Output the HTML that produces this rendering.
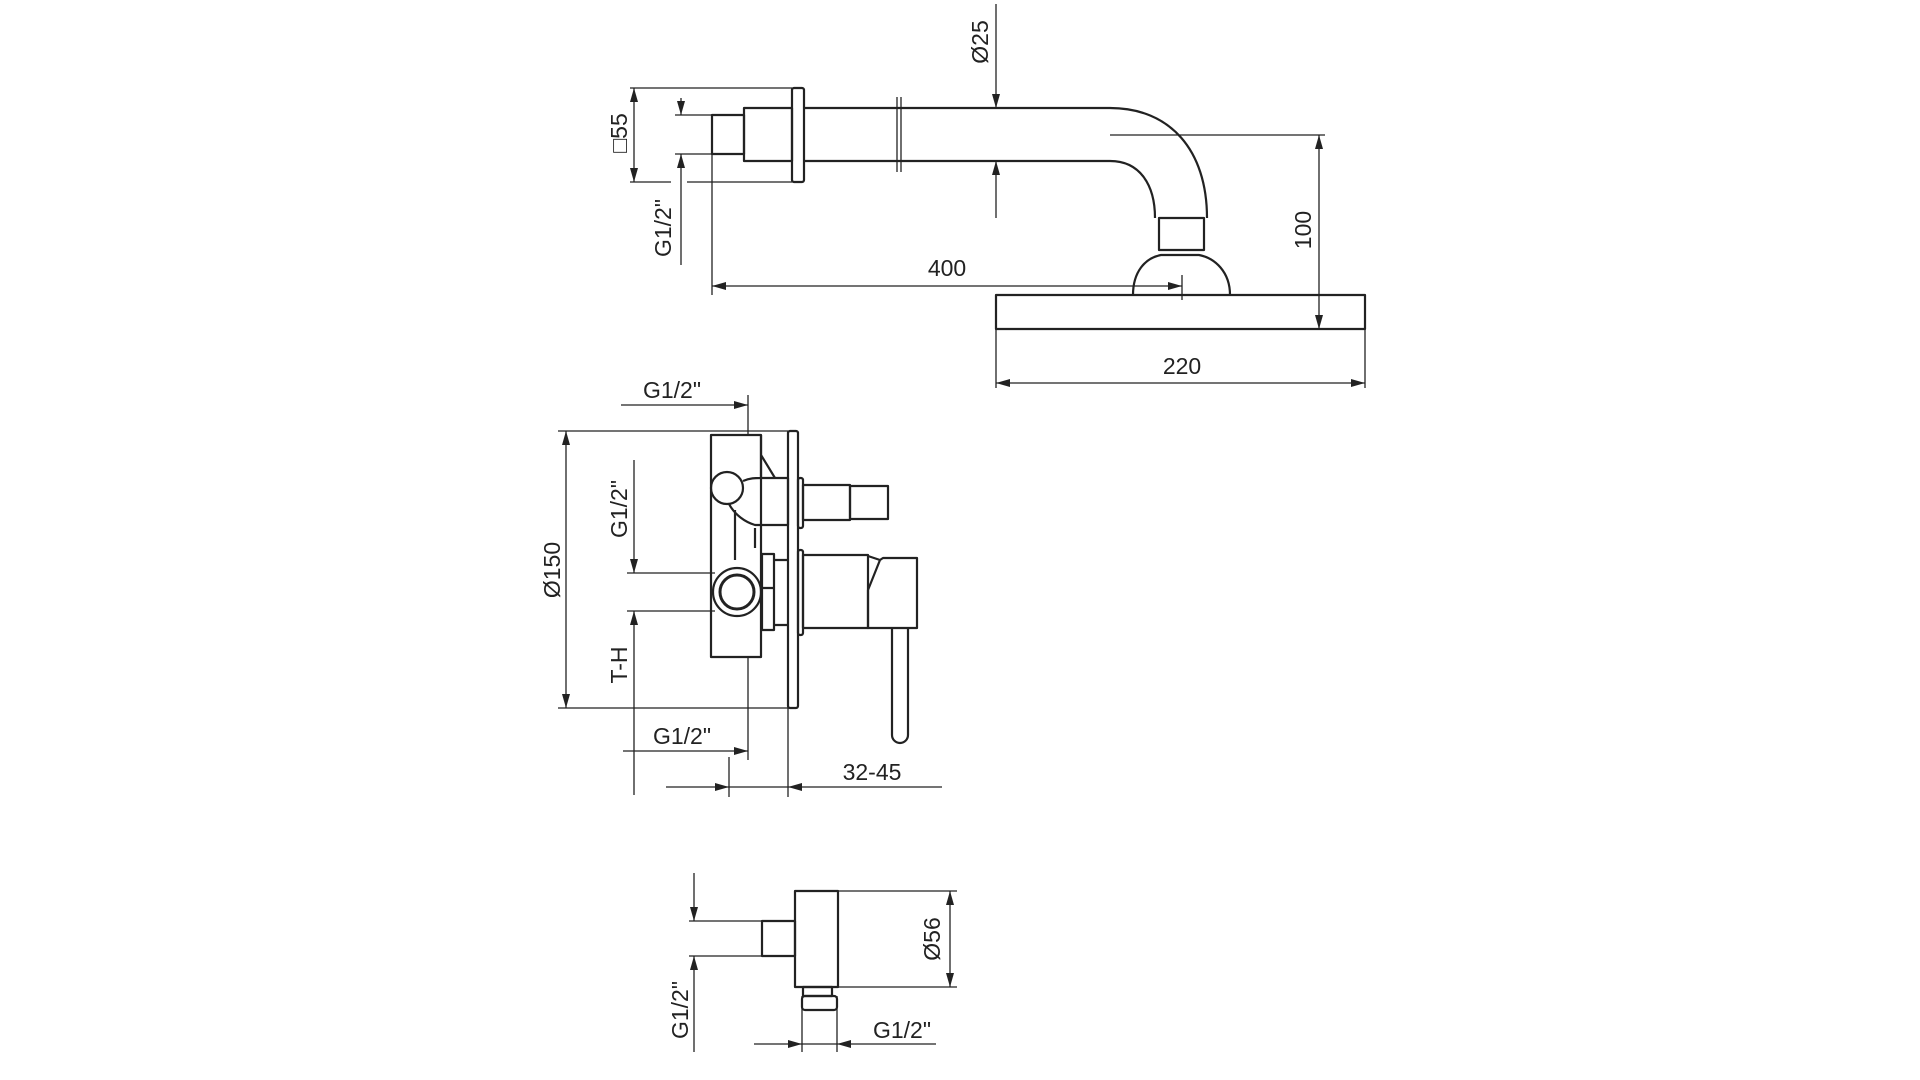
<!DOCTYPE html>
<html><head><meta charset="utf-8"><style>
html,body{margin:0;padding:0;background:#fff;}
svg{display:block}
text{font-family:"Liberation Sans",sans-serif;font-size:23px;fill:#222;}
</style></head><body>
<svg width="1920" height="1080" viewBox="0 0 1920 1080" xmlns="http://www.w3.org/2000/svg">
<defs>
<marker id="a" viewBox="0 0 14 8" refX="14" refY="4" markerWidth="14" markerHeight="8" markerUnits="userSpaceOnUse" orient="auto-start-reverse"><path d="M0,0 L14,4 L0,8 Z" fill="#222"/></marker>
</defs>
<g fill="none" stroke="#222" stroke-width="2.2" stroke-linejoin="round">
<!-- TOP -->
<rect x="792" y="88" width="12" height="94" rx="2"/>
<rect x="744" y="108" width="48" height="53"/>
<rect x="712" y="115" width="32" height="39"/>
<path d="M804,108 H1110 C1170,108 1207,150 1207,218"/>
<path d="M804,161 H1110 C1140,161 1155,185 1155,218"/>
<rect x="1159" y="218" width="45" height="32"/>
<path d="M1133,295 C1133,272 1145,258 1161,255 H1199 C1215,258 1230,272 1230,295"/>
<rect x="996" y="295" width="369" height="34"/>
<!-- MIDDLE -->
<rect x="711" y="435" width="50" height="222"/>
<rect x="788" y="431" width="10" height="277" rx="2"/>
<circle cx="727" cy="488" r="16"/>
<path d="M743,481 C750,478 755,478 761,478 H788 M761,435 V478 M761,455 L775,478 M729,504 C735,515 745,522 755,525 H788 V478 M735,510 V560 M755,528 V548"/>
<circle cx="737" cy="592" r="24"/>
<circle cx="737" cy="592" r="17" stroke-width="3"/>
<rect x="762" y="554" width="12" height="76"/>
<path d="M774,560 H788 M774,625 H788 M760,588 H774"/>
<rect x="798" y="478" width="5" height="50" rx="2"/>
<rect x="803" y="485" width="47" height="35"/>
<rect x="850" y="486" width="38" height="33"/>
<rect x="798" y="550" width="5" height="85" rx="2"/>
<rect x="803" y="555" width="65" height="73"/>
<path d="M868,556 L880,560 L883,558 H917 V628 H868 V590 L880,560"/>
<path d="M892,628 V735 A8,8 0 0 0 908,735 V628"/>
<!-- BOTTOM -->
<rect x="795" y="891" width="43" height="96"/>
<rect x="762" y="921" width="33" height="35"/>
<rect x="803" y="987" width="29" height="9"/>
<rect x="802" y="996" width="35" height="14" rx="3"/>
</g>
<g fill="none" stroke="#222" stroke-width="1.3">
<!-- top dims -->
<path d="M630,88 H792 M630,182 H671 M687,182 H792"/>
<line x1="634" y1="88" x2="634" y2="182" marker-start="url(#a)" marker-end="url(#a)"/>
<path d="M675,115 H712 M675,154 H712"/>
<line x1="681" y1="98" x2="681" y2="115" marker-end="url(#a)"/>
<line x1="681" y1="265" x2="681" y2="154" marker-end="url(#a)"/>
<line x1="712" y1="154" x2="712" y2="295"/>
<line x1="712" y1="286" x2="1182" y2="286" marker-start="url(#a)" marker-end="url(#a)"/>
<line x1="1182" y1="275" x2="1182" y2="300"/>
<path d="M897,97 V172 M901,97 V172"/>
<line x1="996" y1="4" x2="996" y2="108" marker-end="url(#a)"/>
<line x1="996" y1="218" x2="996" y2="161" marker-end="url(#a)"/>
<line x1="1110" y1="135" x2="1325" y2="135"/>
<line x1="1319" y1="135" x2="1319" y2="329" marker-start="url(#a)" marker-end="url(#a)"/>
<path d="M996,329 V388 M1365,329 V388"/>
<line x1="996" y1="383" x2="1365" y2="383" marker-start="url(#a)" marker-end="url(#a)"/>
<!-- middle dims -->
<line x1="621" y1="405" x2="748" y2="405" marker-end="url(#a)"/>
<line x1="748" y1="395" x2="748" y2="435"/>
<path d="M558,431 H788 M558,708 H788"/>
<line x1="566" y1="431" x2="566" y2="708" marker-start="url(#a)" marker-end="url(#a)"/>
<line x1="634" y1="460" x2="634" y2="573" marker-end="url(#a)"/>
<line x1="634" y1="795" x2="634" y2="611" marker-end="url(#a)"/>
<path d="M627,573 H715 M627,611 H715"/>
<line x1="623" y1="751" x2="748" y2="751" marker-end="url(#a)"/>
<line x1="748" y1="657" x2="748" y2="760"/>
<line x1="666" y1="787" x2="729" y2="787" marker-end="url(#a)"/>
<line x1="942" y1="787" x2="788" y2="787" marker-end="url(#a)"/>
<line x1="729" x2="729" y1="757" y2="797"/>
<line x1="729" x2="788" y1="787" y2="787"/>
<line x1="788" x2="788" y1="708" y2="797"/>
<!-- bottom dims -->
<path d="M838,891 H957 M838,987 H957"/>
<line x1="950" y1="891" x2="950" y2="987" marker-start="url(#a)" marker-end="url(#a)"/>
<line x1="694" y1="873" x2="694" y2="921" marker-end="url(#a)"/>
<line x1="694" y1="1052" x2="694" y2="956" marker-end="url(#a)"/>
<path d="M689,921 H762 M689,956 H762"/>
<path d="M802,996 V1052 M837,996 V1052"/>
<line x1="754" y1="1044" x2="802" y2="1044" marker-end="url(#a)"/>
<line x1="936" y1="1044" x2="837" y2="1044" marker-end="url(#a)"/>
<line x1="802" y1="1044" x2="837" y2="1044"/>
</g>
<g>
<text transform="translate(627,133) rotate(-90)" text-anchor="middle">□55</text>
<text transform="translate(671,228) rotate(-90)" text-anchor="middle">G1/2"</text>
<text x="947" y="276" text-anchor="middle">400</text>
<text transform="translate(988,42) rotate(-90)" text-anchor="middle">Ø25</text>
<text transform="translate(1311,230) rotate(-90)" text-anchor="middle">100</text>
<text x="1182" y="374" text-anchor="middle">220</text>
<text x="672" y="398" text-anchor="middle">G1/2"</text>
<text transform="translate(560,570) rotate(-90)" text-anchor="middle">Ø150</text>
<text transform="translate(627,509) rotate(-90)" text-anchor="middle">G1/2"</text>
<text transform="translate(627,665) rotate(-90)" text-anchor="middle">T-H</text>
<text x="682" y="744" text-anchor="middle">G1/2"</text>
<text x="872" y="780" text-anchor="middle">32-45</text>
<text transform="translate(940,939) rotate(-90)" text-anchor="middle">Ø56</text>
<text transform="translate(688,1010) rotate(-90)" text-anchor="middle">G1/2"</text>
<text x="902" y="1038" text-anchor="middle">G1/2"</text>
</g>
</svg>
</body></html>
